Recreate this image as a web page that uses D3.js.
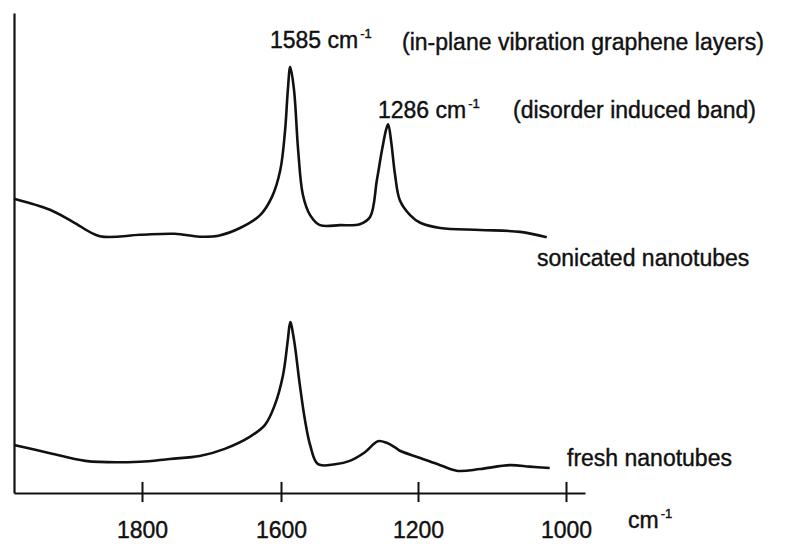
<!DOCTYPE html>
<html>
<head>
<meta charset="utf-8">
<script src="https://cdn.jsdelivr.net/npm/d3@7"></script>
<style>
  body { margin: 0; background: #fff; }
  text { font-family: "Liberation Sans", Arial, sans-serif; fill: #111; stroke: #111; stroke-width: 0.4px; }
</style>
</head>
<body>
<div id="chart"></div>
<script>
// wavenumber (cm-1) readings, high to low
var sonicatedWn = [1985, 1933, 1900, 1861, 1803, 1753, 1717, 1690, 1659, 1630, 1613, 1601, 1588, 1580, 1573, 1562, 1550, 1536, 1515, 1486, 1428, 1370, 1340, 1320, 1305, 1292, 1287, 1278, 1267, 1253, 1223, 1197, 1170, 1116, 1062, 1026];
var sonicatedI = [61.3, 59.0, 56.5, 53.5, 53.8, 54.0, 53.4, 53.6, 55.2, 57.9, 61.7, 67.3, 75.6, 84.0, 88.8, 84.0, 71.5, 62.1, 57.9, 55.8, 55.8, 56.0, 57.5, 65.2, 71.5, 76.0, 76.8, 73.0, 66.3, 61.0, 57.9, 56.3, 55.2, 54.8, 54.4, 53.3];

var freshWn = [1985, 1933, 1882, 1803, 1760, 1717, 1681, 1645, 1623, 1609, 1594, 1580, 1573, 1562, 1545, 1530, 1515, 1492, 1442, 1399, 1355, 1317, 1290, 1267, 1253, 1197, 1170, 1146, 1116, 1076, 1049, 1022];
var freshI = [10.0, 8.3, 6.7, 6.5, 7.1, 7.7, 9.2, 11.7, 14.2, 18.3, 24.6, 31.9, 35.6, 31.9, 22.5, 15.2, 10.0, 6.0, 6.0, 6.7, 8.5, 10.8, 10.4, 9.5, 8.8, 7.3, 5.8, 4.6, 5.0, 5.8, 5.5, 5.2];

var tickValues = [1800, 1600, 1200, 1000];
// the printed axis is not evenly spaced, so the scale is piecewise
var axisBreaks = [1985, 1800, 1600, 1200, 1000, 974];

var width = 785, height = 544;

var x = d3.scaleLinear().domain(axisBreaks).range([14, 142, 281, 418, 566, 585]);
var y = d3.scaleLinear().domain([0, 100]).range([493, 13]);

var svg = d3.select('#chart').append('svg').attr('width', width).attr('height', height);

var line = d3.line().x(function (d) { return x(d[0]); }).y(function (d) { return y(d[1]); }).curve(d3.curveCatmullRom.alpha(0.5));

var series = [d3.zip(sonicatedWn, sonicatedI), d3.zip(freshWn, freshI)];

svg.selectAll('path.spectrum').data(series).enter().append('path')
  .classed('spectrum', true)
  .attr('d', line)
  .style('fill', 'none')
  .style('stroke', '#111')
  .style('stroke-width', 2.6)
  .style('stroke-linejoin', 'round');

// axes
var xAxis = d3.axisBottom(x).tickValues(tickValues).tickSizeOuter(0).tickFormat(d3.format('d'));
var gx = svg.append('g').attr('transform', 'translate(0,' + y(0) + ')').call(xAxis);
gx.select('.domain').style('stroke', '#111').style('stroke-width', 2.2);
gx.selectAll('.tick line').attr('y1', -11).attr('y2', 9).style('stroke', '#111').style('stroke-width', 2);
gx.selectAll('.tick text').attr('y', 45).attr('dy', 0).style('font-size', '23px').style('fill', '#111');

var yAxis = d3.axisLeft(y).tickValues([]).tickSizeOuter(0);
var gy = svg.append('g').attr('transform', 'translate(' + x(1985) + ',0)').call(yAxis);
gy.select('.domain').style('stroke', '#111').style('stroke-width', 2.2);

// annotations
var notes = [
  { t: '1585 cm', s: '-1', x: 270, y: 48 },
  { t: '(in-plane vibration graphene layers)', s: '', x: 402, y: 50 },
  { t: '1286 cm', s: '-1', x: 378, y: 118 },
  { t: '(disorder induced band)', s: '', x: 513, y: 118 },
  { t: 'sonicated nanotubes', s: '', x: 537, y: 266 },
  { t: 'fresh nanotubes', s: '', x: 567, y: 466 },
  { t: 'cm', s: '-1', x: 628, y: 528 }
];

var nt = svg.selectAll('text.note').data(notes).enter().append('text')
  .classed('note', true)
  .attr('x', function (d) { return d.x; })
  .attr('y', function (d) { return d.y; })
  .style('font-size', '23px');
nt.append('tspan').text(function (d) { return d.t; });
nt.filter(function (d) { return d.s; }).append('tspan')
  .attr('dx', 2).attr('dy', -10)
  .style('font-size', '13px')
  .text(function (d) { return d.s; });
</script>
</body>
</html>
